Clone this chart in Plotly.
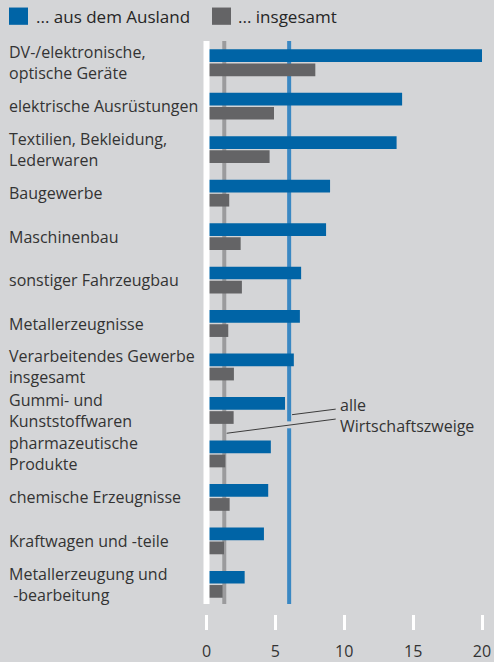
import plotly.graph_objects as go

categories = [
    "DV-/elektronische,<br>optische Geräte",
    "elektrische Ausrüstungen",
    "Textilien, Bekleidung,<br>Lederwaren",
    "Baugewerbe",
    "Maschinenbau",
    "sonstiger Fahrzeugbau",
    "Metallerzeugnisse",
    "Verarbeitendes Gewerbe<br>insgesamt",
    "Gummi- und<br>Kunststoffwaren",
    "pharmazeutische<br>Produkte",
    "chemische Erzeugnisse",
    "Kraftwagen und -teile",
    "Metallerzeugung und<br>&nbsp;-bearbeitung",
]
ausland = [20.0, 14.2, 13.8, 8.97, 8.68, 6.87, 6.78, 6.34, 5.7, 4.67, 4.48, 4.17, 2.77]
insgesamt = [7.9, 4.9, 4.58, 1.65, 2.48, 2.57, 1.58, 1.99, 1.97, 1.36, 1.68, 1.27, 1.17]
ref_ausland = 6.0
ref_insgesamt = 1.29
x_ticks = [0, 5, 10, 15, 20]
legend_names = ["... aus dem Ausland", "... insgesamt"]
ref_label = "alle<br>Wirtschaftszweige"

BLUE = "#0064a6"
GREY = "#646466"
BG = "#d4d5d7"
TEXT = "#333333"
FONT = "Open Sans"

idx = list(range(len(categories)))

fig = go.Figure()
fig.add_trace(go.Bar(y=idx, x=ausland, orientation="h", marker=dict(color=BLUE, line=dict(width=0)),
                     name=legend_names[0], showlegend=False, hoverinfo="skip"))
fig.add_trace(go.Bar(y=idx, x=insgesamt, orientation="h", marker=dict(color=GREY, line=dict(width=0)),
                     name=legend_names[1], showlegend=False, hoverinfo="skip"))

# plot geometry (pixels): plot area l=200, r=494, top=41, paper bottom=618
W, H = 494, 662
ML, MR, MT, MB = 200, 0, 41, 44
pw = W - ML - MR
ph = H - MT - MB
def px(xp):
    return (xp - ML) / pw
def py(yp):
    return (H - MB - yp) / ph

Y_TOP, Y_BOT = 41, 610
ydom0 = py(Y_BOT)

shapes = []
# reference lines (below bars)
shapes.append(dict(type="line", xref="x", yref="paper", x0=ref_insgesamt, x1=ref_insgesamt,
                   y0=py(608), y1=py(41), line=dict(color="#9b9b9d", width=4), layer="below"))
shapes.append(dict(type="line", xref="x", yref="paper", x0=ref_ausland, x1=ref_ausland,
                   y0=py(608), y1=py(41), line=dict(color="#3a88c3", width=4), layer="below"))
# zero line (white, above bars)
shapes.append(dict(type="line", xref="x", yref="paper", x0=0, x1=0,
                   y0=py(608), y1=py(41), line=dict(color="white", width=6), layer="above"))
# gap in blue line where annotation leader crosses
shapes.append(dict(type="line", xref="x", yref="paper", x0=ref_ausland, x1=ref_ausland,
                   y0=py(431), y1=py(424), line=dict(color=BG, width=6), layer="above"))
# leader lines
shapes.append(dict(type="line", xref="paper", yref="paper", x0=px(335.7), y0=py(411.7),
                   x1=px(292), y1=py(417.3), line=dict(color="#3c3c3c", width=1), layer="above"))
shapes.append(dict(type="line", xref="paper", yref="paper", x0=px(335.7), y0=py(421.7),
                   x1=px(226.7), y1=py(436), line=dict(color="#3c3c3c", width=1), layer="above"))
# legend squares
shapes.append(dict(type="rect", xref="paper", yref="paper", x0=px(9), x1=px(28), y0=py(24.7), y1=py(7.3),
                   fillcolor=BLUE, line=dict(width=0)))
shapes.append(dict(type="rect", xref="paper", yref="paper", x0=px(212), x1=px(231), y0=py(24.7), y1=py(7.3),
                   fillcolor=GREY, line=dict(width=0)))

annotations = []
for i, c in enumerate(categories):
    annotations.append(dict(x=px(6.5), xref="paper", y=i, yref="y", text=c, showarrow=False,
                            xanchor="left", yanchor="middle", align="left",
                            font=dict(family=FONT, size=16, color=TEXT)))
annotations.append(dict(x=px(337.5), xref="paper", y=py(418), yref="paper",
                        text=ref_label, showarrow=False, xanchor="left",
                        yanchor="middle", align="left", font=dict(family=FONT, size=16, color=TEXT)))
annotations.append(dict(x=px(34), xref="paper", y=py(16), yref="paper", text=legend_names[0],
                        showarrow=False, xanchor="left", yanchor="middle",
                        font=dict(family=FONT, size=17, color="#262626")))
annotations.append(dict(x=px(236), xref="paper", y=py(16), yref="paper", text=legend_names[1],
                        showarrow=False, xanchor="left", yanchor="middle",
                        font=dict(family=FONT, size=17, color="#262626")))

x_per_px = 20 / (482 - 206.5)
x_lo = -(206.5 - ML) * x_per_px
x_hi = (W - MR - 206.5) * x_per_px

fig.update_layout(
    width=W, height=H,
    margin=dict(l=ML, r=MR, t=MT, b=MB, pad=0),
    paper_bgcolor=BG, plot_bgcolor=BG,
    barmode="group", bargap=0.35, bargroupgap=0.1,
    shapes=shapes, annotations=annotations,
    hovermode=False,
    xaxis=dict(range=[x_lo, x_hi], tickvals=x_ticks, ticktext=[str(t) for t in x_ticks],
               showgrid=False, zeroline=False, showline=False,
               ticks="outside", ticklen=15, tickwidth=3, tickcolor="white",
               anchor="free", position=0, ticklabelstandoff=8,
               tickfont=dict(family=FONT, size=16, color=TEXT), fixedrange=True),
    yaxis=dict(range=[len(categories) - 0.5, -0.5], domain=[ydom0, 1], showgrid=False,
               zeroline=False, showline=False, showticklabels=False, ticks="", fixedrange=True),
    showlegend=False,
)

fig.write_html("out.html", config={"displayModeBar": False},
               post_script="document.body.style.margin='0';document.body.style.padding='0';"
                           "document.body.style.background='" + BG + "';"
                           "document.body.style.overflow='hidden';")
